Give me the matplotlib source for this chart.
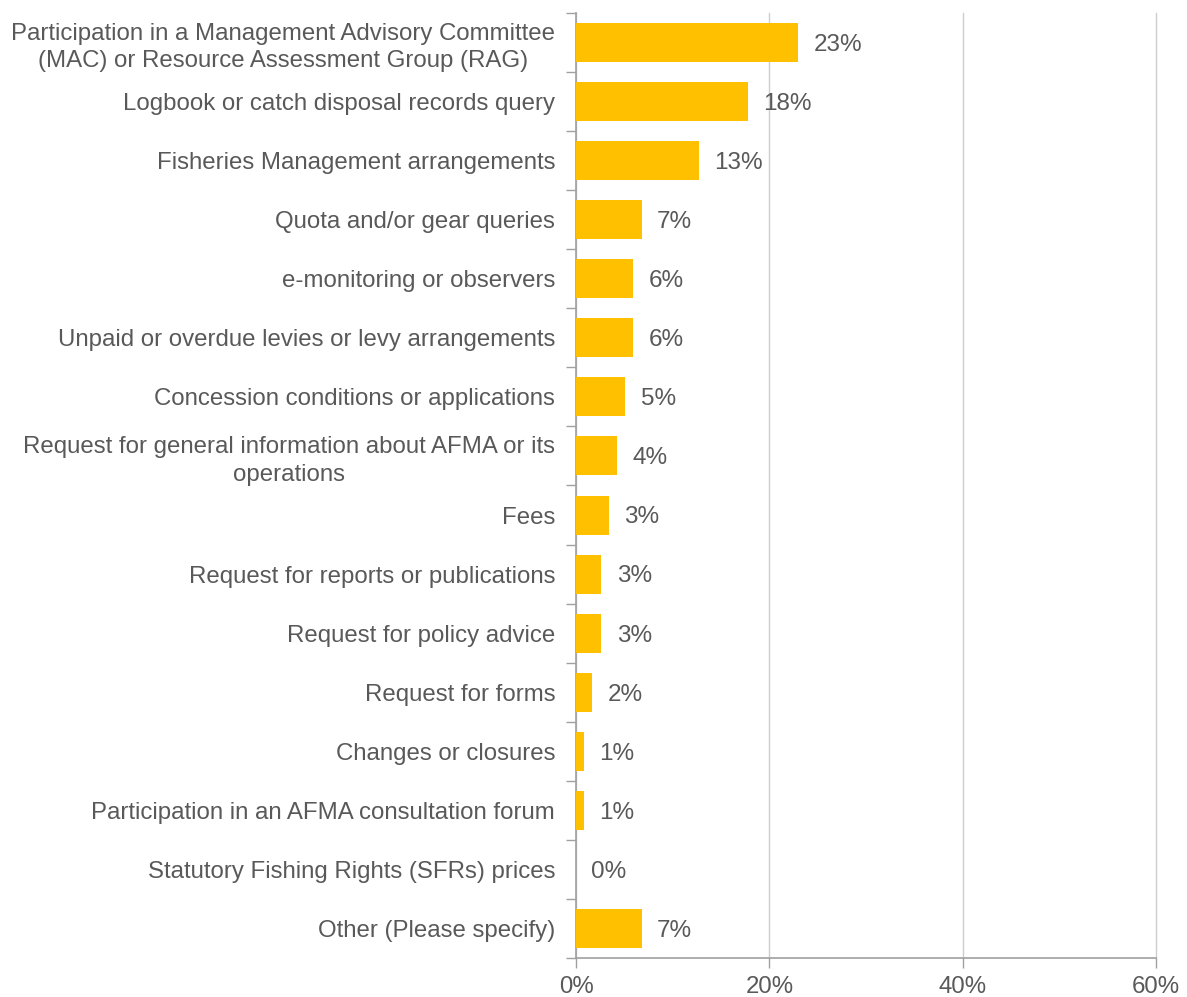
import matplotlib.pyplot as plt
from matplotlib.ticker import FixedLocator, PercentFormatter

# ===== Dane =====
categories = [
    "Participation in a Management Advisory Committee\n(MAC) or Resource Assessment Group (RAG)",
    "Logbook or catch disposal records query",
    "Fisheries Management arrangements",
    "Quota and/or gear queries",
    "e-monitoring or observers",
    "Unpaid or overdue levies or levy arrangements",
    "Concession conditions or applications",
    "Request for general information about AFMA or its\noperations",
    "Fees",
    "Request for reports or publications",
    "Request for policy advice",
    "Request for forms",
    "Changes or closures",
    "Participation in an AFMA consultation forum",
    "Statutory Fishing Rights (SFRs) prices",
    "Other (Please specify)",
]
shares = [23.0, 17.8, 12.7, 6.8, 5.9, 5.9, 5.1, 4.2, 3.4, 2.6, 2.6, 1.7, 0.8, 0.8, 0.0, 6.8]
x_ticks = [0, 20, 40, 60]

BAR = "#FFC000"
TXT = "#595959"
GRID = "#CDCDCD"
AXIS = "#A0A0A0"

plt.rcParams['font.family'] = ['Liberation Sans', 'DejaVu Sans']

fig = plt.figure(figsize=(11.87, 9.97), dpi=100)
ax = fig.add_axes([576 / 1187, 1 - 958 / 997, (1156 - 576) / 1187, (958 - 13) / 997])

n = len(categories)
ypos = list(range(n))
ax.barh(ypos, shares, height=0.66, color=BAR, zorder=3)

# etykiety wartości obok słupków
for y, v in zip(ypos, shares):
    ax.text(v + 1.6, y + 0.04, f"{v:.0f}%", va="center", ha="left", fontsize=17.5, color=TXT)

ax.set_xlim(0, 60)
ax.set_ylim(n - 0.5, -0.5)
ax.xaxis.set_major_locator(FixedLocator(x_ticks))
ax.xaxis.set_major_formatter(PercentFormatter(decimals=0))
ax.set_yticks(ypos)
ax.set_yticklabels(categories, multialignment="center", linespacing=1.3)
ax.yaxis.set_minor_locator(FixedLocator([i - 0.5 for i in range(n + 1)]))

ax.tick_params(axis="y", which="major", length=0, pad=15, labelsize=17.3, labelcolor=TXT)
ax.tick_params(axis="y", which="minor", length=7, color=AXIS, width=1)
ax.tick_params(axis="x", which="major", length=7, color=AXIS, width=1, labelsize=17.3, labelcolor=TXT, pad=6)

ax.grid(axis="x", color=GRID, linewidth=1, zorder=0)
for gl in ax.get_xgridlines():
    gl.set_clip_on(False)
for s in ("top", "right"):
    ax.spines[s].set_visible(False)
for s in ("left", "bottom"):
    ax.spines[s].set_color(AXIS)
    ax.spines[s].set_linewidth(1.2)

fig.savefig("out.png", dpi=100)
